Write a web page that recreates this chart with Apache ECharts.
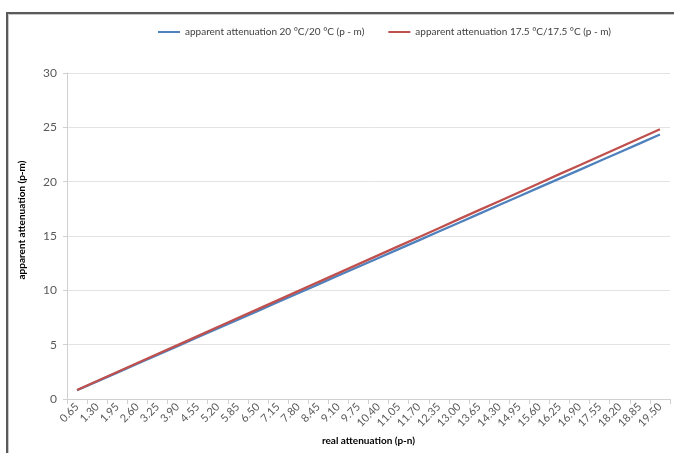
<!DOCTYPE html>
<html>
<head>
<meta charset="utf-8">
<script src="https://cdn.jsdelivr.net/npm/echarts@6/dist/echarts.min.js"></script>
<style>html,body{margin:0;padding:0;background:#fff}#c{width:674px;height:453px}</style>
</head>
<body>
<div id="c"></div>
<script>
var categories = ['0.65','1.30','1.95','2.60','3.25','3.90','4.55','5.20','5.85','6.50','7.15','7.80','8.45','9.10','9.75','10.40','11.05','11.70','12.35','13.00','13.65','14.30','14.95','15.60','16.25','16.90','17.55','18.20','18.85','19.50'];
var series20 = [0.81,1.62,2.43,3.24,4.06,4.87,5.68,6.49,7.30,8.11,8.92,9.73,10.55,11.36,12.17,12.98,13.79,14.60,15.41,16.22,17.04,17.85,18.66,19.47,20.28,21.09,21.90,22.71,23.52,24.34];
var series175 = [0.83,1.65,2.48,3.31,4.14,4.96,5.79,6.62,7.45,8.27,9.10,9.93,10.76,11.58,12.41,13.24,14.07,14.89,15.72,16.55,17.38,18.20,19.03,19.86,20.69,21.51,22.34,23.17,24.00,24.82];
var seriesNames = ['apparent attenuation 20 °C/20 °C (p - m)','apparent attenuation 17.5 °C/17.5 °C (p - m)'];
var yTicks = {min:0, max:30, interval:5};
var xTitle = 'real attenuation (p-n)';
var yTitle = 'apparent attenuation (p-m)';

var font = 'Lato, "Liberation Sans", sans-serif';
var chart = echarts.init(document.getElementById('c'), null, {renderer:'canvas'});
chart.setOption({
  animation:false,
  color:['#4F81BD','#C0504D'],
  textStyle:{fontFamily:font},
  graphic:[
    {type:'rect', shape:{x:7,y:13,width:700,height:500}, style:{fill:'none',stroke:'#5a5a5a',lineWidth:2}, z:100},
    {type:'rect', shape:{x:8.5,y:14.5,width:700,height:500}, style:{fill:'none',stroke:'#c8c8c8',lineWidth:1}, z:100},
    {type:'text', x:22, y:220, rotation:Math.PI/2,
     style:{text:yTitle, fontSize:10, fontWeight:'bold', fill:'#000', fontFamily:font, align:'center', verticalAlign:'middle'}}
  ],
  legend:{
    top:22, left:153, itemGap:24, itemWidth:22, itemHeight:2,
    icon:'rect',
    textStyle:{fontSize:10, color:'#404040', fontFamily:font},
    data:seriesNames
  },
  grid:{left:67, right:4, top:73, bottom:54, containLabel:false},
  xAxis:{
    type:'category', data:categories, boundaryGap:true,
    name:xTitle, nameLocation:'middle', nameGap:37,
    nameTextStyle:{fontSize:10, fontWeight:'bold', color:'#000', fontFamily:font},
    axisLine:{lineStyle:{color:'#d0d0d0'}},
    axisTick:{show:true, length:5, lineStyle:{color:'#d0d0d0'}},
    axisLabel:{rotate:45, interval:0, fontSize:11, color:'#595959', margin:6, fontFamily:font},
    splitLine:{show:false}
  },
  yAxis:{
    type:'value', min:yTicks.min, max:yTicks.max, interval:yTicks.interval,
    axisLine:{show:true, lineStyle:{color:'#d0d0d0'}},
    axisTick:{show:true, length:4, lineStyle:{color:'#d0d0d0'}},
    axisLabel:{fontSize:12, color:'#595959', margin:10, fontFamily:font},
    splitLine:{lineStyle:{color:'#e3e3e3'}}
  },
  series:[
    {name:seriesNames[0], type:'line', data:series20, symbol:'none', lineStyle:{width:2.3, color:'#4F81BD'}, z:2},
    {name:seriesNames[1], type:'line', data:series175, symbol:'none', lineStyle:{width:2.3, color:'#C0504D'}, z:3}
  ]
});
</script>
</body>
</html>
